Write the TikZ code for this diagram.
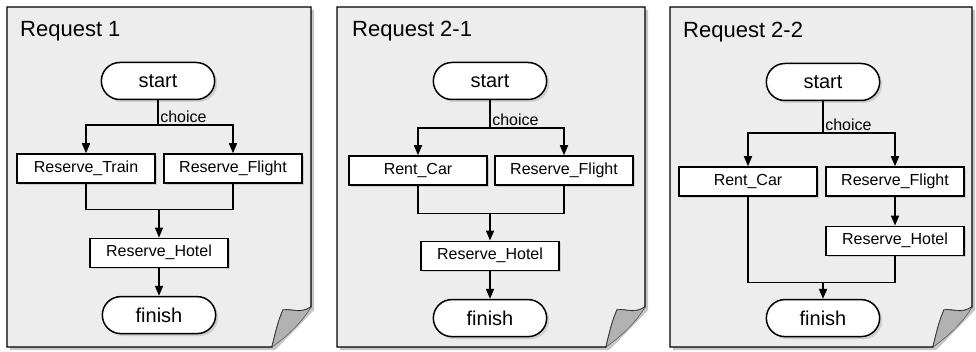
\documentclass[tikz,border=0pt]{standalone}
\usepackage{fontspec}
\setmainfont{Liberation Sans}
\usetikzlibrary{arrows.meta,positioning,shapes.misc,shadows}

\begin{document}
\begin{tikzpicture}[x=1pt, y=1pt, node distance=53pt,
  sheet/.style={draw, line width=1.3pt, fill=gray!14},
  term/.style={draw, rounded rectangle, line width=1.5pt, fill=white,
    minimum width=120pt, minimum height=37pt, font=\fontsize{20}{24}\selectfont,
    drop shadow={shadow xshift=2.5pt, shadow yshift=-2.5pt, fill=gray!60}},
  task/.style={draw, line width=1.3pt, fill=white, minimum width=138pt,
    minimum height=29pt, inner sep=0pt, font=\fontsize{16}{19}\selectfont,
    drop shadow={shadow xshift=2pt, shadow yshift=-2pt, fill=gray!60}},
  flow/.style={line width=1.6pt},
  arr/.style={flow, -{Triangle[length=10pt,width=8pt]}},
  lbl/.style={above right, inner sep=1.5pt, font=\fontsize{16}{19}\selectfont},
  title/.style={anchor=base west, inner sep=0pt, font=\fontsize{22}{26}\selectfont}]
  \useasboundingbox (0,0) rectangle (976,351);

  % paper sheets with a curled corner
  \foreach \lft/\rgt in {7/311, 337/645, 670/972} {
    \fill[gray!45] (\lft+3,341) -- (\rgt+3,341) -- (\rgt+3,41)
      .. controls (\rgt-15,22) .. (\rgt-36,1) -- (\lft+3,1) -- cycle;
    \draw[sheet] (\lft,344) -- (\rgt,344) -- (\rgt,44)
      .. controls (\rgt-10,37) and (\rgt-18,42) .. (\rgt-28,41)
      .. controls (\rgt-33,28) .. (\rgt-39,4) -- (\lft,4) -- cycle;
    \filldraw[fill=gray!60, draw=black!70, line width=0.5pt] (\rgt-28,41)
      .. controls (\rgt-33,28) .. (\rgt-39,4)
      .. controls (\rgt-22,16) and (\rgt-8,30) .. (\rgt,44)
      .. controls (\rgt-10,37) and (\rgt-18,42) .. (\rgt-28,41) -- cycle;
  }

  % Request 1
  \node[title] (rq1) at (20,314) {Request 1};
  \node[term] (st1) at (158,270) {start};
  \node[task, below=53pt of st1, xshift=-72pt] (tr1) {Reserve\_Train};
  \node[task, below=53pt of st1, xshift=75pt] (fl1) {Reserve\_Flight};
  \node[task, below=54pt of tr1, xshift=73pt] (ho1) {Reserve\_Hotel};
  \node[term, below=28pt of ho1] (fi1) {finish};
  \draw[flow] (st1.south) -- ++(0,-25) coordinate (sp1) node[lbl] {choice};
  \draw[arr] (sp1) -| (tr1);
  \draw[arr] (sp1) -| (fl1);
  \draw[flow] (tr1.south) -- ++(0,-26) coordinate (jn1) -| (fl1.south);
  \draw[arr] (jn1 -| ho1) -- (ho1);
  \draw[arr] (ho1) -- (fi1);

  % Request 2-1
  \node[title] (rq2) at (352,314) {Request 2-1};
  \node[term] (st2) at (490,270) {start};
  \node[task, below=55pt of st2, xshift=-72pt] (rc2) {Rent\_Car};
  \node[task, below=55pt of st2, xshift=74pt] (fl2) {Reserve\_Flight};
  \node[task, below=55pt of rc2, xshift=72pt] (ho2) {Reserve\_Hotel};
  \node[term, below=28pt of ho2] (fi2) {finish};
  \draw[flow] (st2.south) -- ++(0,-28) coordinate (sp2) node[lbl] {choice};
  \draw[arr] (sp2) -| (rc2);
  \draw[arr] (sp2) -| (fl2);
  \draw[flow] (rc2.south) -- ++(0,-28) coordinate (jn2) -| (fl2.south);
  \draw[arr] (jn2 -| ho2) -- (ho2);
  \draw[arr] (ho2) -- (fi2);

  % Request 2-2
  \node[title] (rq3) at (683,313) {Request 2-2};
  \node[term] (st3) at (823,269) {start};
  \node[task, below=65pt of st3, xshift=-75pt] (rc3) {Rent\_Car};
  \node[task, below=65pt of st3, xshift=72pt] (fl3) {Reserve\_Flight};
  \node[task, below=29pt of fl3] (ho3) {Reserve\_Hotel};
  \node[term, below=43pt of ho3, xshift=-72pt] (fi3) {finish};
  \draw[flow] (st3.south) -- ++(0,-32) coordinate (sp3) node[lbl] {choice};
  \draw[arr] (sp3) -| (rc3);
  \draw[arr] (sp3) -| (fl3);
  \draw[arr] (fl3) -- (ho3);
  \draw[flow] (rc3.south) -- ++(0,-86) coordinate (jn3) -| (ho3.south);
  \draw[arr] (jn3 -| fi3) -- (fi3);
\end{tikzpicture}
\end{document}
